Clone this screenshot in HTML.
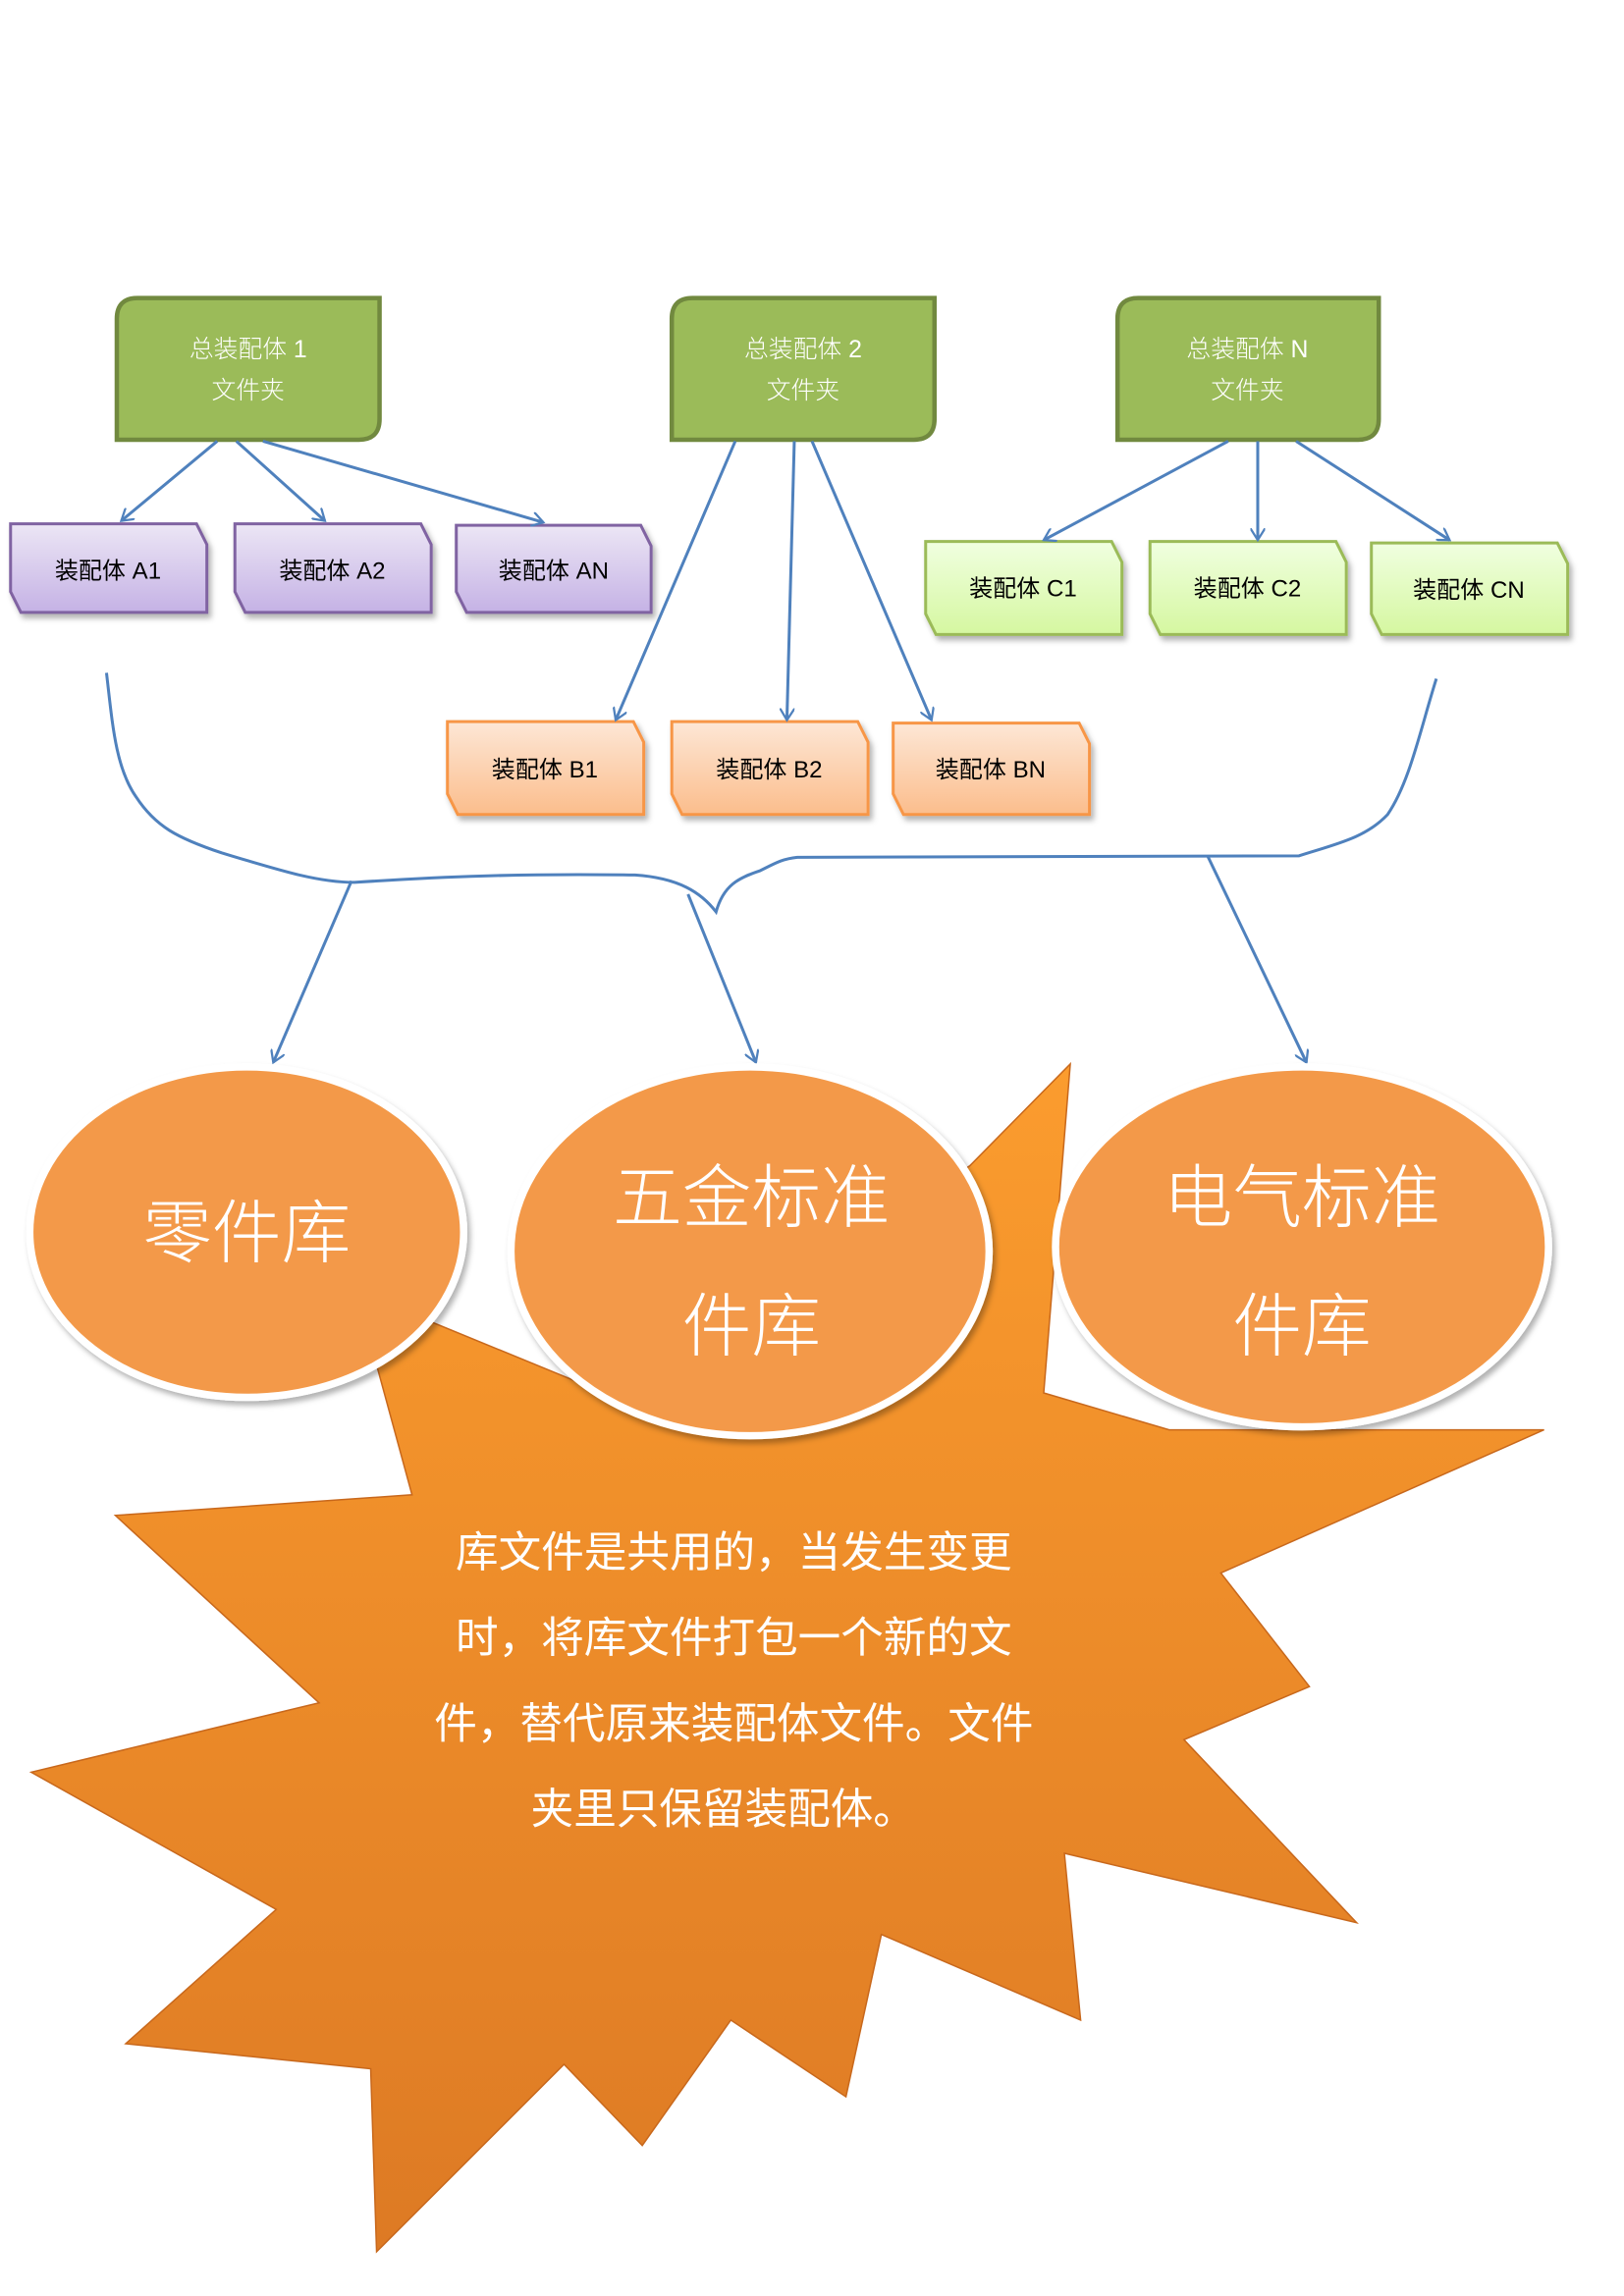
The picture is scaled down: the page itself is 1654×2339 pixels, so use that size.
<!DOCTYPE html>
<html><head><meta charset="utf-8"><style>
html,body{margin:0;padding:0;background:#fff;}
svg{display:block;}
text{font-family:"Liberation Sans","Noto Sans CJK SC","WenQuanYi Zen Hei",sans-serif;}
.thin{font-weight:300;}
.serif{font-family:"Liberation Serif","Noto Serif CJK SC",serif;}
</style></head><body>
<svg width="1654" height="2339" viewBox="0 0 1100 1556" xmlns="http://www.w3.org/2000/svg">
<defs>
<linearGradient id="gp" x1="0" y1="0" x2="0" y2="1"><stop offset="0" stop-color="#ece6f5"/><stop offset="1" stop-color="#c5b2e5"/></linearGradient>
<linearGradient id="go" x1="0" y1="0" x2="0" y2="1"><stop offset="0" stop-color="#fde7d6"/><stop offset="1" stop-color="#fbbd8c"/></linearGradient>
<linearGradient id="gg" x1="0" y1="0" x2="0" y2="1"><stop offset="0" stop-color="#f0ffe0"/><stop offset="1" stop-color="#d5f7a0"/></linearGradient>
<linearGradient id="gs" x1="0" y1="0" x2="0" y2="1"><stop offset="0" stop-color="#fb9c2e"/><stop offset="1" stop-color="#dd7a24"/></linearGradient>
<filter id="sh" x="-10%" y="-10%" width="130%" height="130%"><feDropShadow dx="2" dy="3" stdDeviation="2" flood-color="#000" flood-opacity="0.3"/></filter>
<marker id="ar" markerWidth="10" markerHeight="10" refX="8" refY="5" orient="auto" markerUnits="userSpaceOnUse"><path d="M0,0 L8,5 L0,10" fill="none" stroke="#4f81bd" stroke-width="1.5"/></marker>
</defs>

<g fill="#9bbb59" stroke="#71893f" stroke-width="3">
<path d="M93,202 H257 V284 Q257,298 243,298 H79 V216 Q79,202 93,202Z"/>
<path d="M469,202 H633 V284 Q633,298 619,298 H455 V216 Q455,202 469,202Z"/>
<path d="M771,202 H934 V284 Q934,298 920,298 H757 V216 Q757,202 771,202Z"/>
</g>
<g fill="#fff" font-size="16.5" text-anchor="middle" class="thin">
<text x="168" y="242">总装配体 1</text><text x="168" y="270">文件夹</text>
<text x="544" y="242">总装配体 2</text><text x="544" y="270">文件夹</text>
<text x="845" y="242">总装配体 N</text><text x="845" y="270">文件夹</text>
</g>

<g fill="url(#gp)" stroke="#8064a2" stroke-width="2" filter="url(#sh)">
<path d="M7,355 H133 L140,369 V415 H14 L7,401Z"/>
<path d="M159,355 H285 L292,369 V415 H166 L159,401Z"/>
<path d="M309,356 H434 L441,370 V415 H316 L309,401Z"/>
</g>
<g fill="url(#go)" stroke="#f79646" stroke-width="2" filter="url(#sh)">
<path d="M303,489 H429 L436,503 V552 H310 L303,538Z"/>
<path d="M455,489 H581 L588,503 V552 H462 L455,538Z"/>
<path d="M605,490 H731 L738,504 V552 H612 L605,538Z"/>
</g>
<g fill="url(#gg)" stroke="#9bbb59" stroke-width="2" filter="url(#sh)">
<path d="M627,367 H753 L760,381 V430 H634 L627,416Z"/>
<path d="M779,367 H905 L912,381 V430 H786 L779,416Z"/>
<path d="M929,368 H1055 L1062,382 V430 H936 L929,416Z"/>
</g>
<g fill="#000" font-size="16" text-anchor="middle">
<text x="73" y="392">装配体 A1</text><text x="225" y="392">装配体 A2</text><text x="375" y="392">装配体 AN</text>
<text x="369" y="527">装配体 B1</text><text x="521" y="527">装配体 B2</text><text x="671" y="527">装配体 BN</text>
<text x="693" y="404">装配体 C1</text><text x="845" y="404">装配体 C2</text><text x="995" y="405">装配体 CN</text>
</g>

<g stroke="#4f81bd" stroke-width="2" fill="none" marker-end="url(#ar)">
<line x1="147" y1="299" x2="82" y2="353"/>
<line x1="160" y1="299" x2="220" y2="353"/>
<line x1="178" y1="299" x2="368" y2="354"/>
<line x1="498" y1="299" x2="417" y2="488"/>
<line x1="538" y1="299" x2="533" y2="488"/>
<line x1="550" y1="299" x2="631" y2="488"/>
<line x1="832" y1="299" x2="707" y2="366"/>
<line x1="852" y1="299" x2="852" y2="366"/>
<line x1="878" y1="299" x2="982" y2="366"/>
<line x1="238" y1="597" x2="185" y2="720"/>
<line x1="466" y1="606" x2="512" y2="720"/>
<line x1="818" y1="580" x2="885" y2="720"/>
</g>
<path d="M72,456 C76,490 78,520 92,540 C105,560 120,568 150,578 C190,590 215,598 240,598 C300,594 350,592 430,593 C460,595 475,605 485,618 C490,600 500,595 515,590 C525,585 530,582 540,581 L880,580 C905,572 925,568 940,552 C955,530 962,495 973,460" fill="none" stroke="#4f81bd" stroke-width="2"/>

<polygon fill="url(#gs)" stroke="#c8681c" stroke-width="1" points="725,721 707,944 792,969 1046,969 827,1066 887,1143 802,1179 919,1303 721,1256 732,1369 597,1311 573,1421 495,1369 435,1454 382,1399 255,1526 251,1402 85,1385 187,1294 21,1201 216,1154 78,1027 279,1013 255,925 290,895 424,950 657,790"/>

<g fill="#f39948" stroke="#fff" stroke-width="5" filter="url(#sh)">
<ellipse cx="167" cy="835" rx="147" ry="112"/>
<ellipse cx="508" cy="848" rx="162" ry="125"/>
<ellipse cx="882" cy="845" rx="167" ry="122"/>
</g>
<g fill="#fff" font-size="47" text-anchor="middle" class="thin">
<text x="167" y="852">零件库</text>
<text x="509" y="828">五金标准</text><text x="509" y="915">件库</text>
<text x="882" y="828">电气标准</text><text x="882" y="915">件库</text>
</g>
<g fill="#fff" font-size="29" text-anchor="middle" class="serif">
<text x="497" y="1062">库文件是共用的，当发生变更</text>
<text x="497" y="1120">时，将库文件打包一个新的文</text>
<text x="497" y="1178">件，替代原来装配体文件。文件</text>
<text x="490" y="1236">夹里只保留装配体。</text>
</g>
</svg>
</body></html>
